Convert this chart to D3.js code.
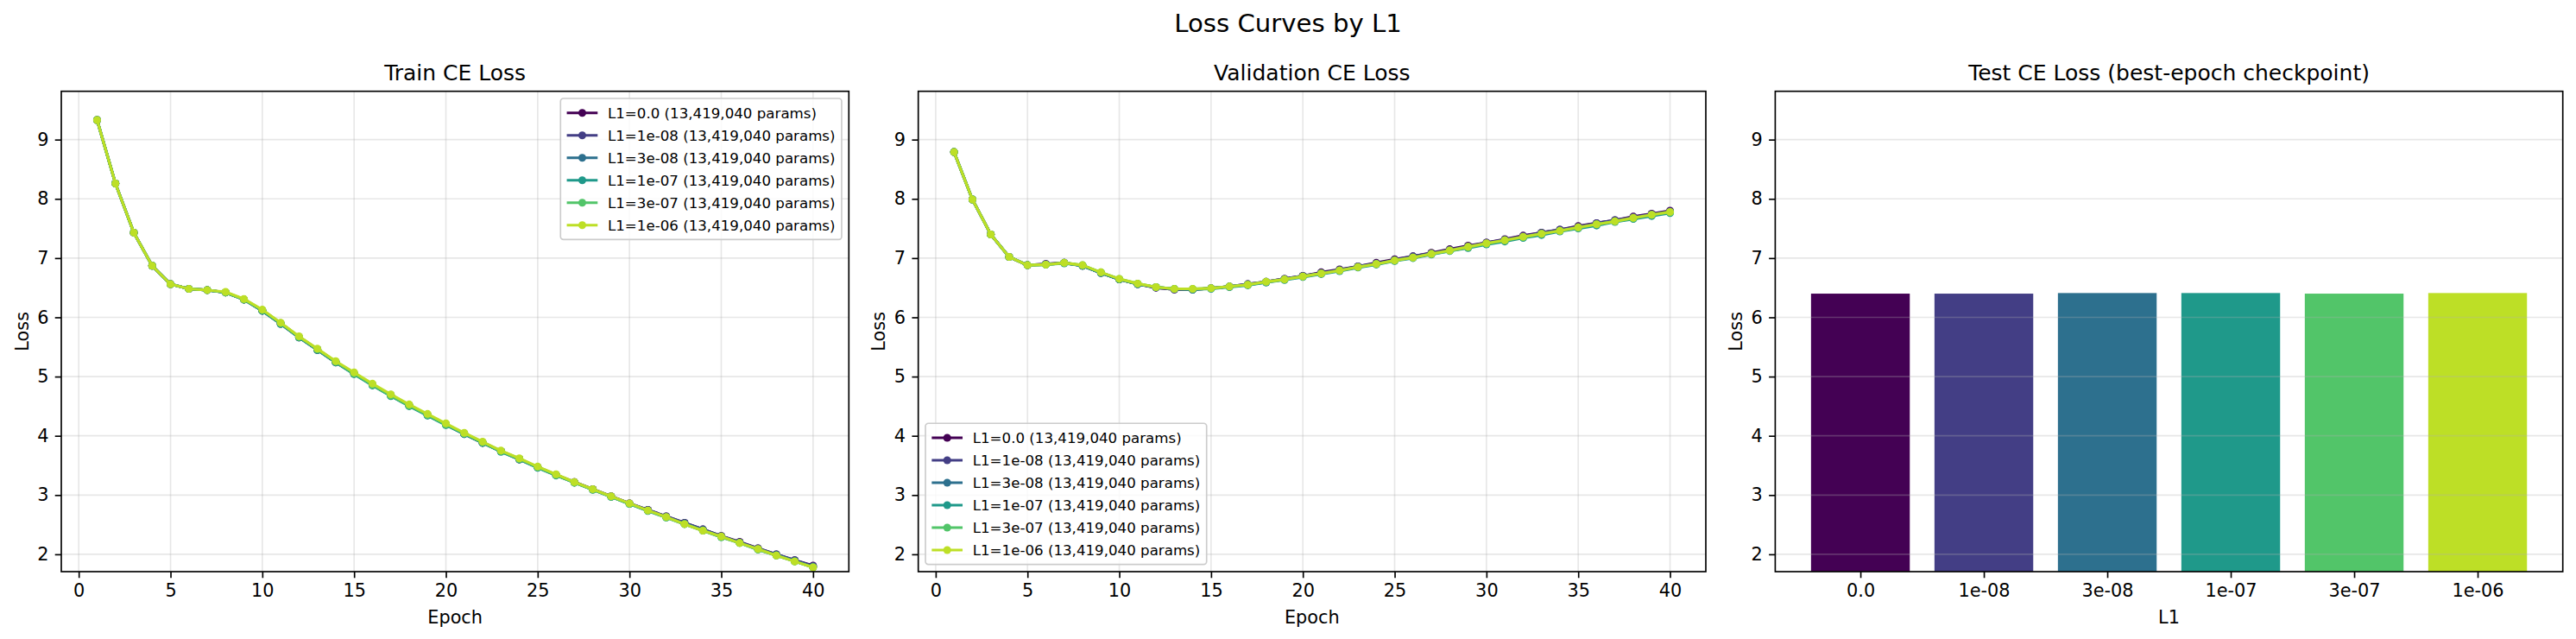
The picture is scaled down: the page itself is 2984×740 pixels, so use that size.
<!DOCTYPE html>
<html>
<head>
<meta charset="utf-8">
<script src="https://cdn.jsdelivr.net/npm/d3@7"></script>
<style>
  html, body { margin: 0; padding: 0; background: #fff; }
  svg { display: block; font-family: "DejaVu Sans", sans-serif; }
</style>
</head>
<body>
<div id="chart"></div>
<script>

 /* DATA
  * =============================== */

var L1_LABELS = ["0.0", "1e-08", "3e-08", "1e-07", "3e-07", "1e-06"]
  , PARAM_COUNTS = [13419040, 13419040, 13419040, 13419040, 13419040, 13419040]
  , EPOCHS = [1, 2, 3, 4, 5, 6, 7, 8, 9, 10, 11, 12, 13, 14, 15, 16, 17, 18, 19, 20,
              21, 22, 23, 24, 25, 26, 27, 28, 29, 30, 31, 32, 33, 34, 35, 36, 37, 38, 39, 40]
  , EPOCH_TICKS = [0, 5, 10, 15, 20, 25, 30, 35, 40]
  , LOSS_TICKS = [2, 3, 4, 5, 6, 7, 8, 9]

// train CE loss per epoch, one array per L1 value
var trainL1_0    = [9.33, 8.26, 7.43, 6.87, 6.56, 6.48, 6.46, 6.42, 6.30, 6.11, 5.89, 5.66, 5.45, 5.24, 5.05, 4.86, 4.68, 4.51, 4.35, 4.19,
                    4.03, 3.88, 3.74, 3.60, 3.47, 3.34, 3.22, 3.10, 2.98, 2.86, 2.75, 2.64, 2.53, 2.42, 2.31, 2.21, 2.10, 2.00, 1.90, 1.81]
  , trainL1_1e8  = [9.33, 8.26, 7.43, 6.87, 6.56, 6.48, 6.46, 6.42, 6.30, 6.12, 5.90, 5.67, 5.46, 5.25, 5.05, 4.86, 4.69, 4.52, 4.35, 4.19,
                    4.04, 3.89, 3.74, 3.61, 3.47, 3.34, 3.22, 3.10, 2.98, 2.86, 2.75, 2.64, 2.53, 2.42, 2.31, 2.20, 2.10, 2.00, 1.90, 1.80]
  , trainL1_3e8  = [9.33, 8.26, 7.43, 6.87, 6.56, 6.48, 6.46, 6.42, 6.30, 6.11, 5.89, 5.66, 5.45, 5.24, 5.05, 4.86, 4.68, 4.51, 4.35, 4.19,
                    4.03, 3.88, 3.74, 3.61, 3.47, 3.34, 3.21, 3.09, 2.97, 2.85, 2.74, 2.63, 2.52, 2.41, 2.30, 2.20, 2.09, 1.99, 1.89, 1.79]
  , trainL1_1e7  = [9.33, 8.26, 7.43, 6.87, 6.56, 6.48, 6.46, 6.42, 6.30, 6.11, 5.89, 5.66, 5.45, 5.24, 5.04, 4.85, 4.67, 4.50, 4.34, 4.18,
                    4.03, 3.88, 3.73, 3.60, 3.46, 3.33, 3.21, 3.09, 2.97, 2.85, 2.73, 2.62, 2.51, 2.40, 2.29, 2.19, 2.08, 1.98, 1.88, 1.78]
  , trainL1_3e7  = [9.33, 8.26, 7.43, 6.87, 6.56, 6.48, 6.46, 6.42, 6.30, 6.12, 5.90, 5.67, 5.46, 5.25, 5.05, 4.86, 4.68, 4.51, 4.35, 4.19,
                    4.04, 3.89, 3.74, 3.61, 3.47, 3.34, 3.21, 3.09, 2.97, 2.85, 2.74, 2.62, 2.51, 2.40, 2.29, 2.19, 2.08, 1.98, 1.88, 1.78]
  , trainL1_1e6  = [9.33, 8.26, 7.43, 6.87, 6.56, 6.48, 6.46, 6.43, 6.31, 6.13, 5.91, 5.68, 5.47, 5.26, 5.07, 4.88, 4.70, 4.53, 4.37, 4.21,
                    4.05, 3.90, 3.75, 3.62, 3.48, 3.35, 3.22, 3.10, 2.98, 2.86, 2.74, 2.63, 2.51, 2.40, 2.30, 2.19, 2.09, 1.98, 1.88, 1.78]

// validation CE loss per epoch
var valL1_0      = [8.79, 7.99, 7.40, 7.02, 6.88, 6.90, 6.92, 6.87, 6.75, 6.64, 6.56, 6.50, 6.47, 6.47, 6.49, 6.52, 6.56, 6.60, 6.65, 6.70,
                    6.76, 6.81, 6.86, 6.92, 6.98, 7.03, 7.09, 7.15, 7.21, 7.26, 7.32, 7.38, 7.43, 7.48, 7.54, 7.59, 7.64, 7.70, 7.75, 7.80]
  , valL1_1e8    = [8.79, 7.99, 7.40, 7.02, 6.88, 6.90, 6.92, 6.87, 6.75, 6.64, 6.56, 6.50, 6.47, 6.47, 6.49, 6.52, 6.56, 6.60, 6.65, 6.70,
                    6.75, 6.80, 6.86, 6.91, 6.97, 7.03, 7.08, 7.14, 7.20, 7.26, 7.31, 7.37, 7.43, 7.48, 7.53, 7.59, 7.64, 7.69, 7.74, 7.79]
  , valL1_3e8    = [8.79, 7.99, 7.40, 7.02, 6.88, 6.89, 6.92, 6.87, 6.75, 6.64, 6.56, 6.51, 6.48, 6.47, 6.49, 6.52, 6.55, 6.59, 6.64, 6.69,
                    6.74, 6.79, 6.85, 6.90, 6.96, 7.01, 7.07, 7.13, 7.19, 7.24, 7.30, 7.35, 7.41, 7.46, 7.51, 7.57, 7.62, 7.67, 7.72, 7.78]
  , valL1_1e7    = [8.79, 7.99, 7.40, 7.02, 6.88, 6.89, 6.91, 6.87, 6.75, 6.64, 6.56, 6.51, 6.48, 6.47, 6.48, 6.51, 6.54, 6.59, 6.63, 6.68,
                    6.73, 6.78, 6.84, 6.89, 6.95, 7.00, 7.06, 7.12, 7.17, 7.23, 7.28, 7.34, 7.39, 7.45, 7.50, 7.55, 7.61, 7.66, 7.71, 7.76]
  , valL1_3e7    = [8.79, 7.99, 7.40, 7.02, 6.88, 6.89, 6.92, 6.88, 6.76, 6.65, 6.57, 6.51, 6.48, 6.48, 6.49, 6.52, 6.55, 6.60, 6.64, 6.69,
                    6.74, 6.79, 6.85, 6.90, 6.96, 7.01, 7.07, 7.12, 7.18, 7.24, 7.30, 7.35, 7.41, 7.46, 7.51, 7.57, 7.62, 7.67, 7.73, 7.77]
  , valL1_1e6    = [8.79, 7.99, 7.40, 7.02, 6.88, 6.89, 6.92, 6.88, 6.76, 6.65, 6.57, 6.51, 6.48, 6.48, 6.49, 6.52, 6.55, 6.60, 6.64, 6.69,
                    6.74, 6.79, 6.85, 6.90, 6.96, 7.01, 7.07, 7.13, 7.19, 7.25, 7.30, 7.36, 7.41, 7.46, 7.52, 7.57, 7.62, 7.68, 7.73, 7.78]

// test CE loss of the best-epoch checkpoint
var TEST_LOSS = [6.40, 6.40, 6.41, 6.41, 6.40, 6.41]

var COLORS = ["#440154", "#433e85", "#2d708e", "#1f998a", "#52c569", "#bddf26"]

var TRAIN = [trainL1_0, trainL1_1e8, trainL1_3e8, trainL1_1e7, trainL1_3e7, trainL1_1e6]
  , VALID = [valL1_0, valL1_1e8, valL1_3e8, valL1_1e7, valL1_3e7, valL1_1e6]


 /* LAYOUT
  * =============================== */

var W = 2984
  , H = 740
  , PT = 150 / 72          // figure is 150 dpi
  , AX_TOP = 105.7
  , AX_H = 662 - 105.7
  , AX_W = 912.3
  , LEFTS = [71, 1063.7, 2056.4]
  , TICK = 3.5 * PT
  , FS_TICK = 10 * PT
  , FS_TITLE = 12 * PT
  , FS_SUPTITLE = 14 * PT
  , FS_LEGEND = 8 * PT
  , MARKER_R = 4.5
  , GRID = "rgba(176,176,176,0.3)"

var svg = d3.select("#chart")
  .append("svg")
  .attr("width", W)
  .attr("height", H)

svg.append("rect").attr("width", W).attr("height", H).attr("fill", "#fff")

svg.append("text")
  .attr("x", W / 2)
  .attr("y", 36.7)
  .attr("text-anchor", "middle")
  .attr("font-size", FS_SUPTITLE)
  .text("Loss Curves by L1")

var y = d3.scaleLinear().domain([1.707, 9.816]).range([AX_H, 0])
  , xEpoch = d3.scaleLinear().domain([-0.95, 41.95]).range([0, AX_W])
  , xBar = d3.scaleLinear().domain([-0.69, 5.69]).range([0, AX_W])

function makePanel (i, title, xlabel) {
  var g = svg.append("g")
    .attr("transform", "translate(" + LEFTS[i] + "," + AX_TOP + ")")

  g.append("text")
    .attr("x", AX_W / 2)
    .attr("y", -6 * PT)
    .attr("text-anchor", "middle")
    .attr("font-size", FS_TITLE)
    .text(title)

  g.append("text")
    .attr("x", AX_W / 2)
    .attr("y", AX_H + 60)
    .attr("text-anchor", "middle")
    .attr("font-size", FS_TICK)
    .text(xlabel)

  g.append("text")
    .attr("transform", "translate(-38.5," + (AX_H / 2) + ") rotate(-90)")
    .attr("text-anchor", "middle")
    .attr("font-size", FS_TICK)
    .text("Loss")

  g.layers = {
    grid: g.append("g")
  , marks: g.append("g")
  , top: g.append("g")
  }
  return g
}

function styleAxis (a) {
  a.select(".domain").remove()
  a.attr("font-size", FS_TICK).attr("font-family", "DejaVu Sans, sans-serif")
  a.selectAll(".tick line").attr("stroke", "#000").attr("stroke-width", 0.8 * PT)
  a.selectAll(".tick text").attr("fill", "#000")
}

function drawAxes (g, x, xTicks, xFormat) {
  g.append("g")
    .attr("transform", "translate(0," + AX_H + ")")
    .call(d3.axisBottom(x).tickValues(xTicks).tickSize(TICK).tickPadding(TICK).tickFormat(xFormat))
    .call(styleAxis)

  g.append("g")
    .call(d3.axisLeft(y).tickValues(LOSS_TICKS).tickSize(TICK).tickPadding(TICK).tickFormat(d3.format("d")))
    .call(styleAxis)

  g.append("rect")
    .attr("width", AX_W)
    .attr("height", AX_H)
    .attr("fill", "none")
    .attr("stroke", "#000")
    .attr("stroke-width", 0.8 * PT)
}

function drawGrid (layer, x, xTicks) {
  if (xTicks) {
    layer.selectAll(".gx").data(xTicks).enter().append("line")
      .attr("x1", function (d) { return x(d) })
      .attr("x2", function (d) { return x(d) })
      .attr("y1", 0).attr("y2", AX_H)
      .attr("stroke", GRID).attr("stroke-width", 0.8 * PT)
  }
  layer.selectAll(".gy").data(LOSS_TICKS).enter().append("line")
    .attr("x1", 0).attr("x2", AX_W)
    .attr("y1", function (d) { return y(d) })
    .attr("y2", function (d) { return y(d) })
    .attr("stroke", GRID).attr("stroke-width", 0.8 * PT)
}

function drawCurves (layer, series) {
  var line = d3.line()
    .x(function (d, j) { return xEpoch(EPOCHS[j]) })
    .y(function (d) { return y(d) })

  series.forEach(function (values, k) {
    var s = layer.append("g")
    s.append("path")
      .attr("d", line(values))
      .attr("fill", "none")
      .attr("stroke", COLORS[k])
      .attr("stroke-width", 1.5 * PT)
      .attr("stroke-linejoin", "round")
    s.selectAll("circle").data(values).enter().append("circle")
      .attr("cx", function (d, j) { return xEpoch(EPOCHS[j]) })
      .attr("cy", function (d) { return y(d) })
      .attr("r", MARKER_R)
      .attr("fill", COLORS[k])
  })
}

function drawLegend (g, corner) {
  var pad = 0.5 * FS_LEGEND
    , rowH = 26
    , first = 16.7
    , textX = 54.7
    , fmt = d3.format(",")
    , leg = g.append("g")

  var frame = leg.append("rect")
    .attr("rx", 0.2 * FS_LEGEND)
    .attr("fill", "rgba(255,255,255,0.8)")
    .attr("stroke", "#cccccc")
    .attr("stroke-width", 0.8 * PT)

  var maxW = 0
  L1_LABELS.forEach(function (lab, k) {
    var cy = first + k * rowH
    leg.append("line")
      .attr("x1", 7.3).attr("x2", 43)
      .attr("y1", cy).attr("y2", cy)
      .attr("stroke", COLORS[k]).attr("stroke-width", 1.5 * PT)
    leg.append("circle")
      .attr("cx", 25.2).attr("cy", cy).attr("r", MARKER_R)
      .attr("fill", COLORS[k])
    var t = leg.append("text")
      .attr("x", textX).attr("y", cy).attr("dy", "0.36em")
      .attr("font-size", FS_LEGEND)
      .text("L1=" + lab + " (" + fmt(PARAM_COUNTS[k]) + " params)")
    maxW = Math.max(maxW, t.node().getComputedTextLength())
  })

  var bw = textX + maxW + 7.4
    , bh = first * 2 + (L1_LABELS.length - 1) * rowH
  frame.attr("width", bw).attr("height", bh)

  var tx = corner === "upper right" ? AX_W - pad - bw : pad
    , ty = corner === "upper right" ? pad : AX_H - pad - bh
  leg.attr("transform", "translate(" + tx + "," + ty + ")")
}


 /* PANELS
  * =============================== */

var p1 = makePanel(0, "Train CE Loss", "Epoch")
drawGrid(p1.layers.grid, xEpoch, EPOCH_TICKS)
drawCurves(p1.layers.marks, TRAIN)
drawAxes(p1.layers.top, xEpoch, EPOCH_TICKS, d3.format("d"))
drawLegend(p1.layers.top, "upper right")

var p2 = makePanel(1, "Validation CE Loss", "Epoch")
drawGrid(p2.layers.grid, xEpoch, EPOCH_TICKS)
drawCurves(p2.layers.marks, VALID)
drawAxes(p2.layers.top, xEpoch, EPOCH_TICKS, d3.format("d"))
drawLegend(p2.layers.top, "lower left")

// bars sit under the grid here, as in the source figure
var p3 = makePanel(2, "Test CE Loss (best-epoch checkpoint)", "L1")
p3.layers.grid.raise()
p3.layers.top.raise()
p3.layers.marks.selectAll("rect").data(TEST_LOSS).enter().append("rect")
  .attr("x", function (d, i) { return xBar(i - 0.4) })
  .attr("width", function (d, i) { return xBar(i + 0.4) - xBar(i - 0.4) })
  .attr("y", function (d) { return y(d) })
  .attr("height", function (d) { return AX_H - y(d) })
  .attr("fill", function (d, i) { return COLORS[i] })
drawGrid(p3.layers.grid, xBar, null)
drawAxes(p3.layers.top, xBar, [0, 1, 2, 3, 4, 5], function (i) { return L1_LABELS[i] })

</script>
</body>
</html>
